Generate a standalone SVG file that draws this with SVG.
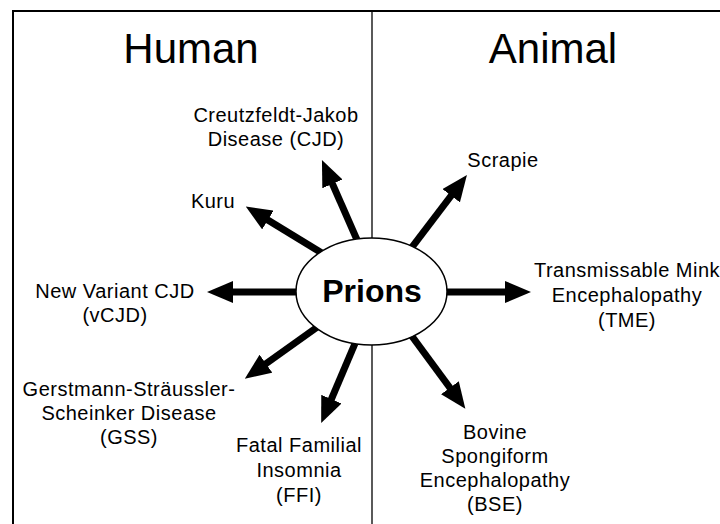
<svg xmlns="http://www.w3.org/2000/svg" width="720" height="524" viewBox="0 0 720 524">
<style>
  text { font-family: "Liberation Sans", Arial, Helvetica, sans-serif; fill: #000; }
  .head { font-size: 42px; text-anchor: middle; }
  .lbl { font-size: 20px; text-anchor: middle; letter-spacing: 0.5px; }
  .main { font-size: 32px; font-weight: bold; text-anchor: middle; }
  .arrow { stroke: #000; stroke-width: 7; fill: none; marker-end: url(#ah); }
</style>
<defs>
  <marker id="ah" viewBox="0 0 26 22" markerWidth="26" markerHeight="22" markerUnits="userSpaceOnUse" refX="4" refY="11" orient="auto">
    <path d="M0,0 L26,11 L0,22 Z" fill="#000"/>
  </marker>
</defs>
<rect x="0" y="0" width="720" height="524" fill="#fff"/>
<g id="frame">
  <path d="M13,524 V11 H720" fill="none" stroke="#000" stroke-width="2"/>
  <line x1="372" y1="11" x2="372" y2="524" stroke="#000" stroke-width="1.3"/>
  <text class="head" x="191" y="63">Human</text>
  <text class="head" x="553" y="63">Animal</text>
</g>
<g id="connectors">
  <line class="arrow" x1="365" y1="258" x2="330.8" y2="180.2"/>
  <line class="arrow" x1="330" y1="258" x2="264.5" y2="217.9"/>
  <line class="arrow" x1="403" y1="259" x2="453.6" y2="192.5"/>
  <line class="arrow" x1="440" y1="292" x2="509" y2="292"/>
  <line class="arrow" x1="305" y1="292" x2="229" y2="292"/>
  <line class="arrow" x1="330" y1="318" x2="262.7" y2="366"/>
  <line class="arrow" x1="362" y1="327" x2="329.8" y2="402.8"/>
  <line class="arrow" x1="400" y1="320" x2="452.3" y2="391"/>
</g>
<g id="prions">
  <ellipse cx="371.5" cy="291.5" rx="75.5" ry="53.5" fill="#fff" stroke="#000" stroke-width="1.5"/>
  <text class="main" x="372" y="302">Prions</text>
</g>
<g id="cjd">
  <text class="lbl" x="276" y="122">Creutzfeldt-Jakob</text>
  <text class="lbl" x="276" y="146">Disease (CJD)</text>
</g>
<g id="kuru">
  <text class="lbl" x="213" y="208">Kuru</text>
</g>
<g id="vcjd">
  <text class="lbl" x="115" y="298">New Variant CJD</text>
  <text class="lbl" x="115" y="322">(vCJD)</text>
</g>
<g id="gss">
  <text class="lbl" x="129" y="396">Gerstmann-Sträussler-</text>
  <text class="lbl" x="129" y="420">Scheinker Disease</text>
  <text class="lbl" x="129" y="444">(GSS)</text>
</g>
<g id="ffi">
  <text class="lbl" x="299" y="452">Fatal Familial</text>
  <text class="lbl" x="299" y="477">Insomnia</text>
  <text class="lbl" x="299" y="502">(FFI)</text>
</g>
<g id="scrapie">
  <text class="lbl" x="503" y="167">Scrapie</text>
</g>
<g id="tme">
  <text class="lbl" x="627" y="277">Transmissable Mink</text>
  <text class="lbl" x="627" y="302">Encephalopathy</text>
  <text class="lbl" x="627" y="327">(TME)</text>
</g>
<g id="bse">
  <text class="lbl" x="495" y="439">Bovine</text>
  <text class="lbl" x="495" y="463">Spongiform</text>
  <text class="lbl" x="495" y="487">Encephalopathy</text>
  <text class="lbl" x="495" y="511">(BSE)</text>
</g>
</svg>
